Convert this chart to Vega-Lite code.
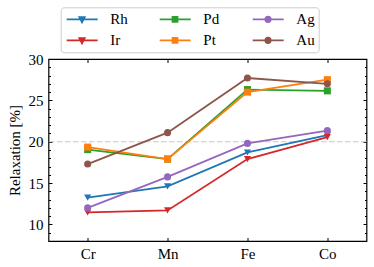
{
  "$schema": "https://vega.github.io/schema/vega-lite/v6.json",
  "width": 318,
  "height": 182,
  "autosize": "none",
  "padding": {"left": 48.5, "top": 59, "right": 7.5, "bottom": 26},
  "background": "white",
  "data": {
    "values": [
      {"metal": "Rh", "el": "Cr", "val": 13.25},
      {"metal": "Rh", "el": "Mn", "val": 14.6},
      {"metal": "Rh", "el": "Fe", "val": 18.7},
      {"metal": "Rh", "el": "Co", "val": 20.8},
      {"metal": "Ir", "el": "Cr", "val": 11.45},
      {"metal": "Ir", "el": "Mn", "val": 11.7},
      {"metal": "Ir", "el": "Fe", "val": 17.9},
      {"metal": "Ir", "el": "Co", "val": 20.55},
      {"metal": "Pd", "el": "Cr", "val": 19.05},
      {"metal": "Pd", "el": "Mn", "val": 17.9},
      {"metal": "Pd", "el": "Fe", "val": 26.3},
      {"metal": "Pd", "el": "Co", "val": 26.15},
      {"metal": "Pt", "el": "Cr", "val": 19.35},
      {"metal": "Pt", "el": "Mn", "val": 17.9},
      {"metal": "Pt", "el": "Fe", "val": 26.0},
      {"metal": "Pt", "el": "Co", "val": 27.5},
      {"metal": "Ag", "el": "Cr", "val": 12.0},
      {"metal": "Ag", "el": "Mn", "val": 15.75},
      {"metal": "Ag", "el": "Fe", "val": 19.8},
      {"metal": "Ag", "el": "Co", "val": 21.35},
      {"metal": "Au", "el": "Cr", "val": 17.3},
      {"metal": "Au", "el": "Mn", "val": 21.1},
      {"metal": "Au", "el": "Fe", "val": 27.7},
      {"metal": "Au", "el": "Co", "val": 27.0}
    ]
  },
  "layer": [
    {
      "data": {"values": [{"v": 20}]},
      "mark": {"type": "rule", "color": "#c8c8c8", "strokeDash": [5.5, 2.5], "strokeWidth": 1.2},
      "encoding": {
        "y": {
          "field": "v", "type": "quantitative",
          "scale": {"domain": [8, 30], "nice": false, "zero": false},
          "axis": {"orient": "left", "values": [10, 15, 20, 25, 30], "tickSize": -3.5, "labelPadding": 9, "title": "Relaxation [%]", "titlePadding": 5.5}
        }
      }
    },
    {
      "mark": {"type": "line", "strokeWidth": 1.8},
      "encoding": {
        "x": {
          "field": "el", "type": "nominal", "sort": null,
          "scale": {"type": "point", "domain": ["Cr", "Mn", "Fe", "Co"], "padding": 0.49},
          "axis": {"orient": "bottom", "tickSize": -3.5, "labelPadding": 9, "labelAngle": 0, "title": null}
        },
        "y": {
          "field": "val", "type": "quantitative",
          "axis": {"orient": "left", "values": [8,9,10,11,12,13,14,15,16,17,18,19,20,21,22,23,24,25,26,27,28,29,30], "tickSize": -2, "labels": false, "title": null}
        },
        "color": {
          "field": "metal", "type": "nominal",
          "scale": {"domain": ["Rh", "Ir", "Pd", "Pt", "Ag", "Au"], "range": ["#1f77b4", "#d62728", "#2ca02c", "#ff7f0e", "#9467bd", "#8c564b"]},
          "legend": {
            "orient": "none", "legendX": 12.2, "legendY": -51.7, "title": null, "columns": 3,
            "symbolSize": 196, "labelOffset": 29.6, "columnPadding": 27, "rowPadding": 5, "padding": 4,
            "strokeColor": "#cccccc", "cornerRadius": 3, "fillColor": "white", "gridAlign": "all",
            "labelFont": "Liberation Serif", "labelFontSize": 15, "labelColor": "black",
            "symbolStrokeWidth": 1.8,
            "encode": {"symbols": {"update": {
              "shape": {"signal": "datum.value == 'Rh' || datum.value == 'Ir' ? 'M-0.857,0H3.571M0.95,-0.3L1.71,-0.3L1.33,0.44Z' : (datum.value == 'Pd' || datum.value == 'Pt' ? 'M-0.857,0H3.571M0.98,-0.35H1.68V0.35H0.98Z' : 'M-0.857,0H3.571M0.94,0A0.39,0.39 0 1,0 1.72,0A0.39,0.39 0 1,0 0.94,0Z')"},
              "strokeWidth": {"value": 1.8}
            }}}
          }
        }
      }
    },
    {
      "mark": {"type": "point", "filled": true, "size": 50, "opacity": 1,
        "shape": {"expr": "datum.metal == 'Rh' || datum.metal == 'Ir' ? 'triangle-down' : (datum.metal == 'Pd' || datum.metal == 'Pt' ? 'square' : 'circle')"}},
      "encoding": {
        "x": {
          "field": "el", "type": "nominal", "sort": null,
          "axis": {"orient": "top", "tickSize": -3.5, "labels": false, "title": null}
        },
        "y": {
          "field": "val", "type": "quantitative",
          "axis": {"orient": "right", "values": [10, 15, 20, 25, 30], "tickSize": -3.5, "labels": false, "title": null}
        },
        "color": {
          "field": "metal", "type": "nominal",
          "legend": {
            "orient": "none", "legendX": 12.2, "legendY": -51.7, "title": null, "columns": 3,
            "symbolSize": 196, "labelOffset": 29.6, "columnPadding": 27, "rowPadding": 5, "padding": 4,
            "strokeColor": "#cccccc", "cornerRadius": 3, "fillColor": "white", "gridAlign": "all",
            "labelFont": "Liberation Serif", "labelFontSize": 15, "labelColor": "black",
            "symbolStrokeWidth": 1.8,
            "encode": {"symbols": {"update": {
              "shape": {"signal": "datum.value == 'Rh' || datum.value == 'Ir' ? 'M-0.857,0H3.571M0.95,-0.3L1.71,-0.3L1.33,0.44Z' : (datum.value == 'Pd' || datum.value == 'Pt' ? 'M-0.857,0H3.571M0.98,-0.35H1.68V0.35H0.98Z' : 'M-0.857,0H3.571M0.94,0A0.39,0.39 0 1,0 1.72,0A0.39,0.39 0 1,0 0.94,0Z')"},
              "strokeWidth": {"value": 1.8}
            }}}
          }
        }
      }
    },
    {
      "data": {"values": [{"v": 20}]},
      "mark": {"type": "rule", "strokeOpacity": 0},
      "encoding": {
        "y": {
          "field": "v", "type": "quantitative",
          "axis": {"orient": "right", "values": [8,9,10,11,12,13,14,15,16,17,18,19,20,21,22,23,24,25,26,27,28,29,30], "tickSize": -2, "labels": false, "title": null}
        }
      }
    }
  ],
  "resolve": {"axis": {"x": "independent", "y": "independent"}},
  "config": {
    "view": {"stroke": "black", "strokeWidth": 1.2},
    "axis": {
      "domain": false, "grid": false, "tickColor": "black", "tickWidth": 1,
      "labelFont": "Liberation Serif", "labelFontSize": 15, "labelColor": "black",
      "titleFont": "Liberation Serif", "titleFontSize": 15, "titleFontWeight": "normal", "titleColor": "black"
    }
  }
}
